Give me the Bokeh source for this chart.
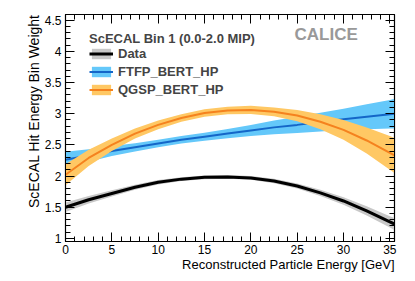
import numpy as np
from bokeh.plotting import figure
from bokeh.models import (Legend, LegendItem, LinearAxis, SingleIntervalTicker,
                          Label, ColumnDataSource, Range1d, CustomJSTickFormatter, Title)
from bokeh.embed import file_html
from bokeh.resources import INLINE

# ---- data ----
energy = [0, 2.5, 5, 7.5, 10, 12.5, 15, 17.5, 20, 22.5, 25, 27.5, 30, 32.5, 35, 35.5]

data_val = [1.50, 1.62, 1.72, 1.82, 1.90, 1.95, 1.98, 1.985, 1.97, 1.92, 1.84, 1.73, 1.60, 1.44, 1.265, 1.23]
data_err = [0.075, 0.06, 0.05, 0.04, 0.035, 0.03, 0.03, 0.03, 0.03, 0.035, 0.04, 0.05, 0.06, 0.075, 0.09, 0.095]

ftfp_val = [2.26, 2.33, 2.40, 2.46, 2.52, 2.58, 2.63, 2.68, 2.73, 2.78, 2.82, 2.865, 2.91, 2.95, 2.99, 3.0]
ftfp_err = [0.13, 0.10, 0.08, 0.065, 0.06, 0.06, 0.065, 0.075, 0.09, 0.11, 0.13, 0.15, 0.17, 0.20, 0.23, 0.24]

qgsp_val = [2.02, 2.29, 2.50, 2.68, 2.82, 2.93, 3.01, 3.05, 3.06, 3.03, 2.97, 2.87, 2.74, 2.57, 2.37, 2.33]
qgsp_err = [0.17, 0.13, 0.10, 0.08, 0.07, 0.06, 0.06, 0.06, 0.065, 0.07, 0.09, 0.12, 0.16, 0.21, 0.27, 0.28]

legend_title = "ScECAL Bin 1 (0.0-2.0 MIP)"
series_names = ["Data", "FTFP_BERT_HP", "QGSP_BERT_HP"]
x_label = "Reconstructed Particle Energy [GeV]"
y_label = "ScECAL Hit Energy Bin Weight"
watermark = "CALICE"

FONT = "Liberation Sans"

def band_source(vals, errs):
    v = np.array(vals)
    e = np.array(errs)
    return ColumnDataSource(dict(x=energy, y=v, lo=v - e, hi=v + e))

p = figure(width=392, height=281, output_backend="svg", toolbar_location=None,
           x_range=Range1d(0, 35.5), y_range=Range1d(0.95, 4.59),
           min_border_left=39, min_border_right=21, min_border_top=14, min_border_bottom=40,
           margin=(0, 0, 0, 23))
p.background_fill_color = "white"
p.border_fill_color = "white"
p.outline_line_color = "black"
p.outline_line_width = 1.2
p.xgrid.visible = False
p.ygrid.visible = False

styles = [
    ("#c8c8c8", "black", 3.0),
    ("#64c8fa", "#1466c8", 2.0),
    ("#ffc864", "#f5821e", 2.0),
]
sources = [band_source(data_val, data_err), band_source(ftfp_val, ftfp_err), band_source(qgsp_val, qgsp_err)]

items = []
for name, src, (fc, lc, lw) in zip(series_names, sources, styles):
    band = p.varea(x="x", y1="lo", y2="hi", source=src, fill_color=fc, fill_alpha=1.0)
    ln = p.line(x="x", y="y", source=src, line_color=lc, line_width=lw)
    items.append((name, band, ln))

legend = Legend(items=[LegendItem(label=n, renderers=[b, l]) for n, b, l in items],
                location=(24, 144), title=legend_title,
                title_text_font=FONT, title_text_font_size="13px", title_text_font_style="bold",
                title_standoff=0,
                label_text_font=FONT, label_text_font_size="13px", label_text_font_style="bold",
                glyph_width=24, glyph_height=13, label_height=13, spacing=3,
                padding=0, margin=0, border_line_color=None, background_fill_alpha=0)
p.add_layout(legend, "center")

p.add_layout(Label(x=229, y=198, x_units="screen", y_units="screen", text=watermark,
                   text_font=FONT, text_font_size="17px", text_font_style="bold",
                   text_color="#999999"))

def style_axis(ax, show_labels):
    ax.major_tick_in = 9
    ax.major_tick_out = 0
    ax.minor_tick_in = 5
    ax.minor_tick_out = 0
    ax.axis_line_color = "black"
    ax.major_tick_line_color = "black"
    ax.minor_tick_line_color = "black"
    ax.major_label_text_font = FONT
    ax.major_label_text_font_size = "12px"
    ax.major_label_text_color = "black"
    if not show_labels:
        ax.formatter = CustomJSTickFormatter(code="return ''")
        ax.major_label_text_font_size = "1px"
        ax.major_label_standoff = 0

p.xaxis.ticker = SingleIntervalTicker(interval=5, num_minor_ticks=5)
p.yaxis.ticker = SingleIntervalTicker(interval=0.5, num_minor_ticks=5)
style_axis(p.xaxis[0], True)
style_axis(p.yaxis[0], True)
p.xaxis.major_label_standoff = 3
p.yaxis.major_label_standoff = 4

top = LinearAxis(ticker=SingleIntervalTicker(interval=5, num_minor_ticks=5))
right = LinearAxis(ticker=SingleIntervalTicker(interval=0.5, num_minor_ticks=5))
style_axis(top, False)
style_axis(right, False)
p.add_layout(top, "above")
p.add_layout(right, "right")

# axis titles, right/top aligned as in the reference
p.add_layout(Title(text=x_label, align="right", vertical_align="top", text_font=FONT,
                   text_font_size="13px", text_font_style="normal", text_color="black",
                   standoff=0, offset=0), "below")
p.add_layout(Title(text=y_label, align="right", text_font=FONT, text_font_size="14px",
                   text_font_style="normal", text_color="black", standoff=0, offset=0), "left")

open("out.html", "w").write(file_html(p, INLINE))
